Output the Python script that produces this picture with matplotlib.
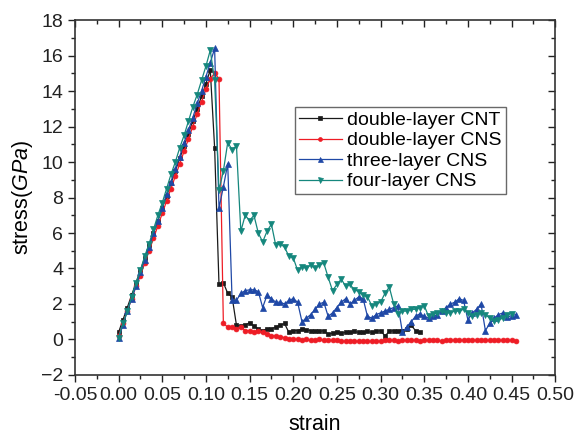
import numpy as np
import matplotlib
matplotlib.use("Agg")
import matplotlib.pyplot as plt
from matplotlib.ticker import MultipleLocator, FormatStrFormatter

plt.rcParams['font.family'] = ['Liberation Sans', 'DejaVu Sans']
plt.rcParams['mathtext.fontset'] = 'custom'
plt.rcParams['mathtext.rm'] = 'Liberation Sans'
plt.rcParams['mathtext.it'] = 'Liberation Sans:italic'

# strain sampled every 0.005 from 0
strain_step = 0.005

cnt2_stress = [0.4, 1.1, 1.8, 2.5, 3.2, 3.9, 4.6, 5.3, 6.0, 6.7, 7.4, 8.1,
               8.8, 9.5, 10.2, 10.9, 11.6, 12.3, 13.0, 13.7, 14.4, 15.2,
               10.8, 3.1, 3.2, 2.6, 2.4, 0.8, 0.75, 0.8, 0.95, 0.75, 0.6,
               0.5, 0.6, 0.6, 0.7, 0.8, 0.9, 0.4, 0.5, 0.5, 0.6, 0.55, 0.5,
               0.5, 0.45, 0.5, 0.3, 0.35, 0.4, 0.35, 0.4, 0.4, 0.45, 0.4,
               0.4, 0.45, 0.4, 0.45, 0.5, 0.2, 0.45, 0.5, 0.5, 0.5, 0.6,
               0.8, 0.5, 0.4]

cns2_stress = [0.2, 0.9, 1.6, 2.3, 3.0, 3.6, 4.3, 5.0, 5.7, 6.4, 7.1, 7.8,
               8.5, 9.2, 9.9, 10.6, 11.3, 12.0, 12.7, 13.4, 14.1, 14.7,
               15.0, 14.7, 0.9, 0.7, 0.7, 0.6, 0.7, 0.5, 0.5, 0.4, 0.45,
               0.4, 0.3, 0.2, 0.2, 0.15, 0.1, 0.05, 0.0, 0.0, -0.05, 0.0,
               -0.05, -0.05, 0.0, -0.05, -0.05, -0.05, -0.05, -0.1, -0.1,
               -0.1, -0.1, -0.1, -0.1, -0.1, -0.1, -0.1, -0.1, -0.05, -0.05,
               -0.05, -0.1, -0.05, -0.05, -0.05, -0.05, -0.1, -0.05, -0.05,
               -0.05, -0.05, -0.1, -0.05, -0.05, -0.05, -0.05, -0.05, -0.05,
               -0.05, -0.05, -0.05, -0.05, -0.05, -0.05, -0.05, -0.05,
               -0.05, -0.05, -0.1]

cns3_stress = [0.1, 0.8, 1.6, 2.3, 3.0, 3.8, 4.5, 5.2, 6.0, 6.7, 7.4, 8.2,
               8.9, 9.6, 10.3, 11.1, 11.8, 12.5, 13.3, 14.0, 14.8, 15.6,
               16.4, 7.4, 8.6, 9.9, 2.2, 2.2, 2.6, 2.75, 2.8, 2.8, 2.7,
               1.8, 2.5, 2.3, 2.1, 2.1, 2.0, 2.2, 2.3, 2.1, 1.0, 1.2, 1.4,
               1.7, 2.0, 2.1, 1.3, 1.5, 1.8, 2.1, 2.3, 2.0, 2.2, 2.4, 2.3,
               1.3, 1.2, 1.4, 1.5, 1.6, 1.7, 1.8, 1.9, 0.4, 0.7, 1.0, 1.3,
               1.45, 1.3, 1.2, 1.3, 1.4, 1.6, 1.8, 2.0, 2.1, 2.3, 2.2, 1.1,
               1.5, 1.7, 2.0, 0.5, 0.9, 1.2, 1.4, 1.5, 1.25, 1.35, 1.4]

cns4_stress = [0.1, 0.9, 1.6, 2.4, 3.2, 3.9, 4.7, 5.4, 6.2, 7.0, 7.7, 8.5,
               9.3, 10.0, 10.8, 11.5, 12.3, 13.1, 13.8, 14.6, 15.4, 16.3,
               14.6, 8.4, 9.5, 11.1, 10.7, 10.9, 6.1, 7.0, 6.7, 7.0, 6.0,
               5.5, 6.1, 6.5, 5.3, 5.4, 5.2, 4.7, 4.6, 3.9, 4.1, 4.0, 4.2,
               4.0, 4.2, 4.3, 3.5, 2.75, 3.1, 3.4, 3.0, 3.1, 2.8, 2.7, 2.5,
               2.4, 1.9, 2.0, 2.1, 2.6, 2.95, 2.0, 1.45, 1.6, 1.6, 1.7, 1.7,
               1.8, 1.9, 1.3, 1.45, 1.5, 1.6, 1.5, 1.5, 1.6, 1.6, 1.7, 1.5,
               1.35, 1.4, 1.5, 1.4, 1.2, 1.05, 1.1, 1.2, 1.4, 1.45]

series = [
    ("double-layer CNT", cnt2_stress, '#1a1a1a', 's', 3.5),
    ("double-layer CNS", cns2_stress, '#ee1c25', 'o', 3.5),
    ("three-layer CNS", cns3_stress, '#1f48a6', '^', 4.5),
    ("four-layer CNS", cns4_stress, '#15877d', 'v', 4.5),
]

fig = plt.figure(figsize=(5.76, 4.37), dpi=100)
ax = fig.add_axes([0.130, 0.142, 0.834, 0.812])

for label, stress, color, marker, ms in series:
    strain = np.arange(len(stress)) * strain_step
    ax.plot(strain, stress, color=color, marker=marker, markersize=ms,
            linewidth=0.9, markeredgewidth=0.5, label=label)

ax.set_xlim(-0.05, 0.50)
ax.set_ylim(-2, 18)
ax.xaxis.set_major_locator(MultipleLocator(0.05))
ax.xaxis.set_minor_locator(MultipleLocator(0.025))
ax.xaxis.set_major_formatter(FormatStrFormatter('%.2f'))
ax.yaxis.set_major_locator(MultipleLocator(2))
ax.yaxis.set_minor_locator(MultipleLocator(1))

ax.tick_params(which='both', direction='out', labelsize=14, width=1.0,
               colors='#222222')
ax.tick_params(which='major', length=5)
ax.tick_params(which='minor', length=3)
ax.tick_params(axis='x', pad=4)
ax.tick_params(which='both', top=True, right=True)
# top/right ticks point inward, like the Origin original
for t in ax.xaxis.get_ticklines(minor=False)[1::2] + ax.xaxis.get_ticklines(minor=True)[1::2]:
    t.set_marker(3)
for t in ax.yaxis.get_ticklines(minor=False)[1::2] + ax.yaxis.get_ticklines(minor=True)[1::2]:
    t.set_marker(0)
for s in ax.spines.values():
    s.set_linewidth(1.2)
    s.set_color('#333333')

ax.set_xlabel('strain', fontsize=15.5, labelpad=7)
ax.set_ylabel(r'stress($\mathit{GPa}$)', fontsize=15.5, labelpad=4)

leg = ax.legend(loc='upper left', bbox_to_anchor=(0.458, 0.754),
                borderaxespad=0, fontsize=14, numpoints=1, fancybox=False,
                handlelength=2.2, handletextpad=0.3, borderpad=0.2,
                labelspacing=0.15, markerscale=0.8)
leg.get_frame().set_edgecolor('#444444')
leg.get_frame().set_linewidth(1.0)

fig.savefig('out.png', dpi=100)
